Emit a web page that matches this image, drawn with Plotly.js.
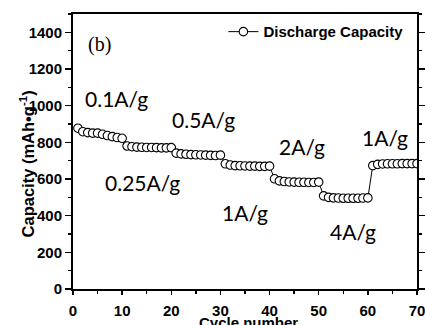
<!DOCTYPE html>
<html>
<head>
<meta charset="utf-8">
<script src="https://cdn.plot.ly/plotly-3.0.1.min.js"></script>
<style>html,body{margin:0;padding:0;background:#fff;}#chart{width:425px;height:325px;}</style>
</head>
<body>
<div id="chart"></div>
<script>
var cycles = [];
for (var i = 1; i <= 70; i++) cycles.push(i);
var capacity = [
  877, 858, 853, 850, 850, 844, 837, 831, 826, 822,
  780, 776, 774, 773, 772, 772, 771, 770, 770, 771,
  741, 737, 735, 733, 732, 731, 730, 729, 728, 730,
  683, 676, 673, 672, 671, 670, 670, 669, 669, 670,
  601, 590, 586, 584, 583, 582, 582, 581, 581, 583,
  508, 500, 497, 496, 495, 495, 495, 495, 496, 497,
  673, 680, 682, 683, 683, 683, 684, 684, 684, 684
];
var rateLabels = ["0.1A/g", "0.5A/g", "0.25A/g", "1A/g", "2A/g", "4A/g", "1A/g"];
var seriesName = "Discharge Capacity";
var panelLabel = "(b)";
var xTitle = "Cycle number";
var yTitle = "Capacity (mAh\u2022g<sup>-1</sup>)";

// label placements (layout only)
var labelPos = [[2.1, 1037], [19.8, 922], [6.2, 579], [30.0, 416], [41.6, 775], [51.8, 311], [58.5, 829]];

var annotations = rateLabels.map(function (t, k) {
  return {x: labelPos[k][0], y: labelPos[k][1], xref: 'x', yref: 'y', text: t, showarrow: false,
    xanchor: 'left', yanchor: 'middle', font: {family: 'Lato, sans-serif', size: 21, color: '#000'}};
});
annotations.push({x: 2.6, y: 1331, xref: 'x', yref: 'y', text: panelLabel, showarrow: false,
  xanchor: 'left', yanchor: 'middle', font: {family: 'Liberation Serif, serif', size: 20, color: '#000'}});
annotations.push({x: -0.135, y: 0.455, xref: 'paper', yref: 'paper', text: yTitle, textangle: -90, showarrow: false,
  xanchor: 'center', yanchor: 'middle', font: {family: 'Liberation Sans, Arial, sans-serif', size: 16.5, weight: 'bold', color: '#000'}});
annotations.push({x: 0.51, y: -0.085, xref: 'paper', yref: 'paper', text: xTitle, showarrow: false,
  xanchor: 'center', yanchor: 'top', font: {family: 'Liberation Sans, Arial, sans-serif', size: 15, weight: 'bold', color: '#000'}});

var trace = {
  x: cycles, y: capacity, type: 'scatter', mode: 'lines+markers', name: seriesName,
  line: {color: '#000', width: 1},
  marker: {symbol: 'circle', size: 8.5, color: '#fff', line: {color: '#000', width: 1.1}}
};

var tickFont = {family: 'Liberation Sans, Arial, sans-serif', size: 15, weight: 'bold', color: '#000'};
var layout = {
  width: 425, height: 325,
  margin: {l: 73, r: 8, t: 14, b: 36},
  paper_bgcolor: '#fff', plot_bgcolor: '#fff',
  showlegend: true,
  legend: {x: 0.975, xanchor: 'right', y: 0.995, yanchor: 'top', bgcolor: 'rgba(0,0,0,0)',
    font: {family: 'Liberation Sans, Arial, sans-serif', size: 15, weight: 'bold', color: '#000'}},
  xaxis: {range: [0, 70], dtick: 10, tick0: 0, showgrid: false, zeroline: false,
    showline: true, linecolor: '#000', linewidth: 2, mirror: true,
    ticks: 'outside', ticklen: 4, tickwidth: 1.5, tickcolor: '#000', tickfont: tickFont, ticklabelstandoff: 3,
    ticklabeloverflow: 'allow',
    minor: {dtick: 5, ticks: 'outside', ticklen: 3, tickwidth: 1.5, tickcolor: '#000', showgrid: false}},
  yaxis: {range: [0, 1500], dtick: 200, tick0: 0, showgrid: false, zeroline: false,
    showline: true, linecolor: '#000', linewidth: 2, mirror: 'ticks',
    ticks: 'outside', ticklen: 6, tickwidth: 1.5, tickcolor: '#000', tickfont: tickFont,
    minor: {dtick: 100, ticks: 'outside', ticklen: 3, tickwidth: 1.5, tickcolor: '#000', showgrid: false}},
  annotations: annotations
};

Plotly.newPlot('chart', [trace], layout, {displayModeBar: false, staticPlot: true});
</script>
</body>
</html>
